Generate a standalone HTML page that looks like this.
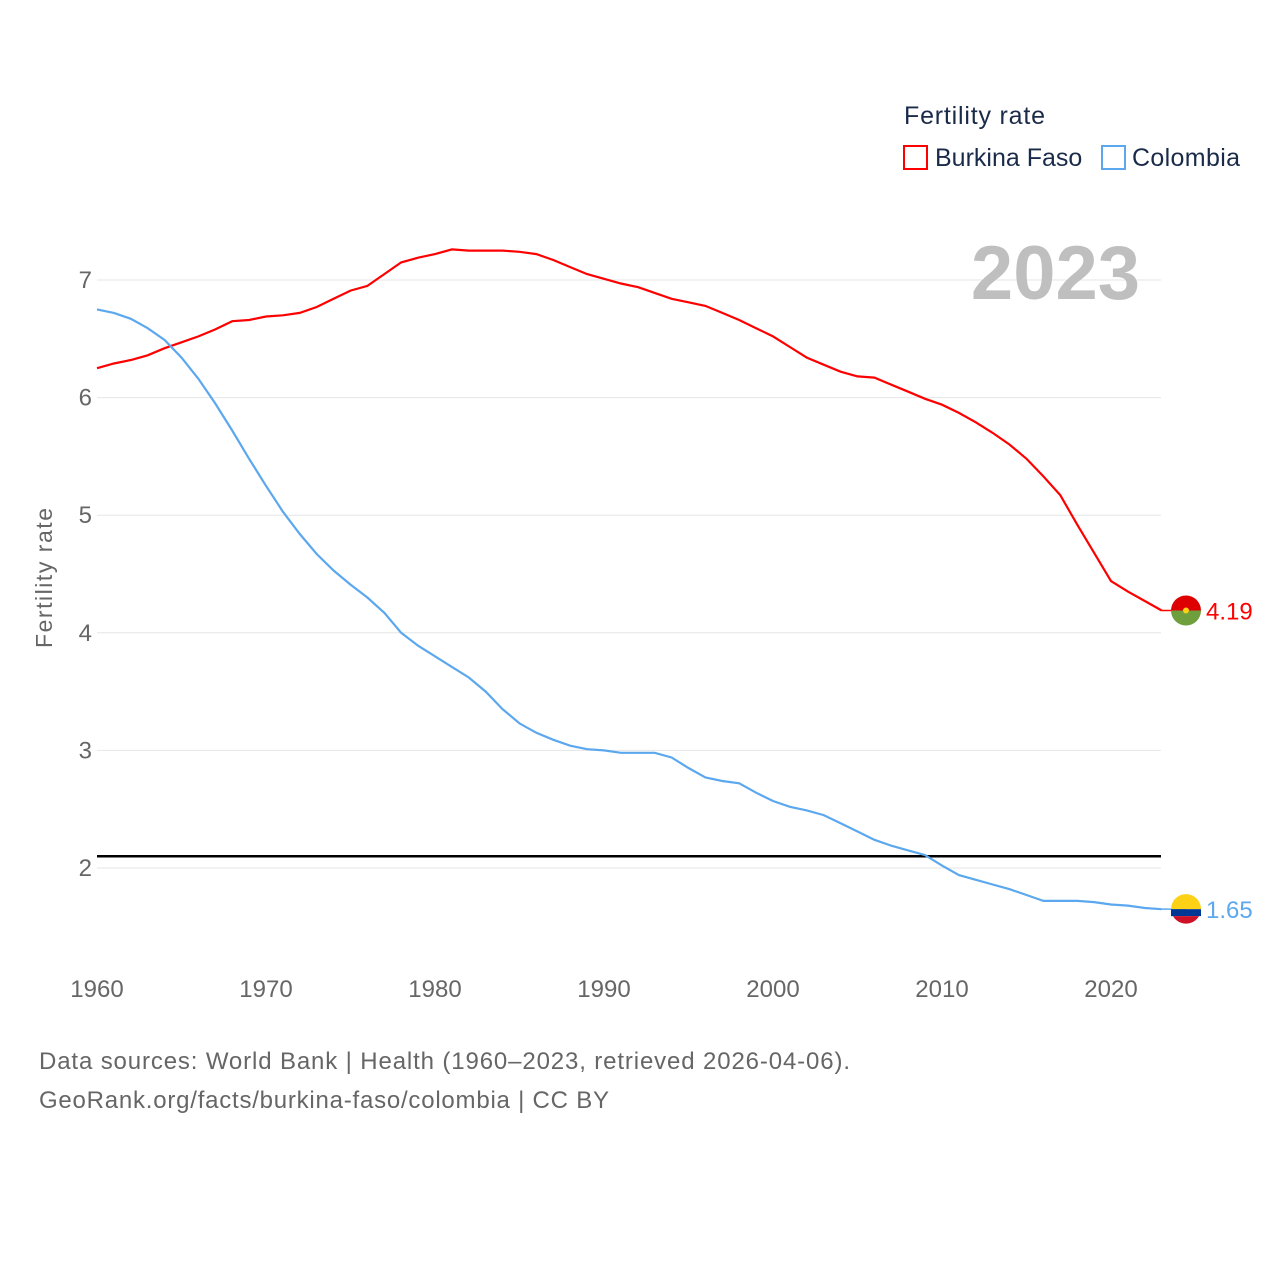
<!DOCTYPE html>
<html><head><meta charset="utf-8"><style>
body{margin:0;background:#fff;}
svg text{font-family:"Liberation Sans",sans-serif;}
</style></head><body>
<svg id="chart" width="1280" height="1280" viewBox="0 0 1280 1280" xmlns="http://www.w3.org/2000/svg">
<rect width="1280" height="1280" fill="#fff"/>
<g id="grid"></g>
<g id="xticks"></g>
<text x="1140" y="299" text-anchor="end" font-size="76" font-weight="bold" fill="#bfbfbf">2023</text>
<text x="52" y="578" transform="rotate(-90 52 578)" text-anchor="middle" font-size="23" fill="#666" textLength="140">Fertility rate</text>
<g>
<text x="904" y="124" font-size="25" fill="#1a2b4a" textLength="141">Fertility rate</text>
<g><rect x="904" y="146" width="23" height="23" fill="none" stroke="#f00" stroke-width="2"/><text x="935" y="166" font-size="25" fill="#1a2b4a">Burkina Faso</text></g>
<g><rect x="1102" y="146" width="23" height="23" fill="none" stroke="#5ca8ee" stroke-width="2"/><text x="1132" y="166" font-size="25" fill="#1a2b4a" textLength="108">Colombia</text></g>
</g>
<g id="series"></g>
<text x="39" y="1069" font-size="24" fill="#666" textLength="811">Data sources: World Bank | Health (1960–2023, retrieved 2026-04-06).</text>
<text x="39" y="1108" font-size="24" fill="#666" textLength="570">GeoRank.org/facts/burkina-faso/colombia | CC BY</text>
</svg>
<script>
const years=[];for(let y=1960;y<=2023;y++)years.push(y);
const burkina=[6.25,6.29,6.32,6.36,6.42,6.47,6.52,6.58,6.65,6.66,6.69,6.70,6.72,6.77,6.84,6.91,6.95,7.05,7.15,7.19,7.22,7.26,7.25,7.25,7.25,7.24,7.22,7.17,7.11,7.05,7.01,6.97,6.94,6.89,6.84,6.81,6.78,6.72,6.66,6.59,6.52,6.43,6.34,6.28,6.22,6.18,6.17,6.11,6.05,5.99,5.94,5.87,5.79,5.70,5.60,5.48,5.33,5.17,4.92,4.68,4.44,4.35,4.27,4.19];
const colombia=[6.75,6.72,6.67,6.59,6.49,6.34,6.16,5.95,5.72,5.48,5.25,5.03,4.84,4.67,4.53,4.41,4.30,4.17,4.00,3.89,3.80,3.71,3.62,3.50,3.35,3.23,3.15,3.09,3.04,3.01,3.00,2.98,2.98,2.98,2.94,2.85,2.77,2.74,2.72,2.64,2.57,2.52,2.49,2.45,2.38,2.31,2.24,2.19,2.15,2.11,2.02,1.94,1.90,1.86,1.82,1.77,1.72,1.72,1.72,1.71,1.69,1.68,1.66,1.65];
const yTicks=[2,3,4,5,6,7];
const xTicks=[1960,1970,1980,1990,2000,2010,2020];
const replacement=2.1;
const X=y=>97+(y-1960)*16.9;
const Y=v=>868-(v-2)*117.6;
const NS="http://www.w3.org/2000/svg";
function mk(t,a,p){const e=document.createElementNS(NS,t);for(const k in a)e.setAttribute(k,a[k]);p.appendChild(e);return e;}
const grid=document.getElementById('grid'),xg=document.getElementById('xticks'),sg=document.getElementById('series');
yTicks.forEach(v=>{
 const l=mk('line',{x1:97,x2:1161,y1:Y(v),y2:Y(v),stroke:'#e6e6e6','stroke-width':1},grid);
 
 
 const t=mk('text',{x:92,y:Y(v)+8,'text-anchor':'end','font-size':24,fill:'#666'},grid);t.textContent=v;
 
 
});
xTicks.forEach(v=>{
 const t=mk('text',{x:X(v),y:997,'text-anchor':'middle','font-size':24,fill:'#666'},xg);t.textContent=v;
 
 
});
const rl=mk('line',{x1:97,x2:1161,y1:Y(replacement),y2:Y(replacement),stroke:'#000','stroke-width':2.5},sg);


function line(data,color,name,lbl,flag){
 const d=data.map((v,i)=>(i?'L':'M')+X(years[i]).toFixed(1)+','+Y(v).toFixed(1)).join('');
 const p=mk('path',{d:d,fill:'none',stroke:color,'stroke-width':2.2},sg);
 
 
 const last=data[data.length-1],ly=Y(last),lx=X(2023);
 mk('line',{x1:lx,x2:1186,y1:ly,y2:ly,stroke:color,'stroke-width':1.5},sg);
 const g=mk('g',{},sg);
 
 
 flag(g,1186,ly);
 const t=mk('text',{x:1206,y:ly+9,'font-size':24,fill:color},sg);t.textContent=lbl;
 
 
}
line(burkina,'#ff0000','burkina-faso','4.19',(g,cx,cy)=>{
 mk('path',{d:`M${cx-15},${cy}A15,15 0 0 1 ${cx+15},${cy}Z`,fill:'#de0000'},g);
 mk('path',{d:`M${cx-15},${cy}A15,15 0 0 0 ${cx+15},${cy}Z`,fill:'#6e9f3c'},g);
 mk('circle',{cx:cx,cy:cy,r:3,fill:'#fcd116'},g);
});
line(colombia,'#5ca8ee','colombia','1.65',(g,cx,cy)=>{
 mk('path',{d:`M${cx-15},${cy}A15,15 0 0 1 ${cx+15},${cy}Z`,fill:'#fcd116'},g);
 mk('rect',{x:cx-15,y:cy,width:30,height:7,fill:'#003893'},g);
 mk('path',{d:`M${cx-13},${cy+7}A15,15 0 0 0 ${cx+13},${cy+7}Z`,fill:'#ce1126'},g);
});
</script>
</body></html>
